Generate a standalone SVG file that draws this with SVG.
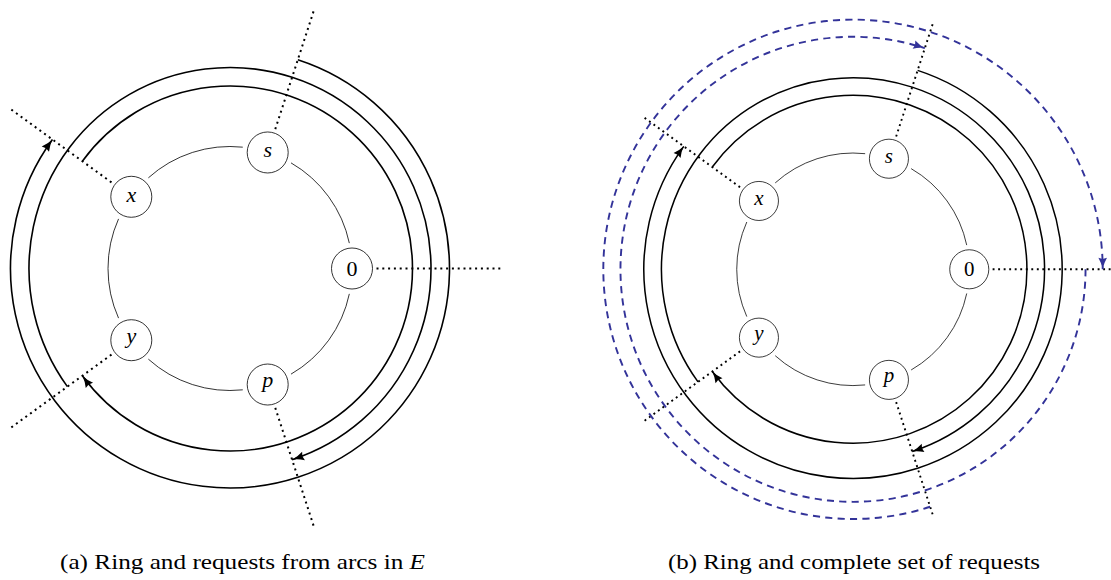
<svg xmlns="http://www.w3.org/2000/svg" width="1111" height="580" viewBox="0 0 1111 580">
<style>
  .ring { fill: none; stroke: #000; stroke-width: 0.8; }
  .req { fill: none; stroke: #000; stroke-width: 1.6; marker-end: url(#ah); }
  .blue { fill: none; stroke: #333399; stroke-width: 2; stroke-dasharray: 7.5 5.5; marker-end: url(#ahb); }
  .dot { fill: none; stroke: #000; stroke-width: 2; stroke-dasharray: 2 3.8; }
  .node circle { fill: #fff; stroke: #000; stroke-width: 0.8; }
  .lbl { font-family: "Liberation Serif", "Times New Roman", serif; font-size: 22px; text-anchor: middle; fill: #000; }
  .it { font-style: italic; }
  .cap { font-family: "Liberation Serif", "Times New Roman", serif; font-size: 22px; fill: #000; }
</style>
<defs>
  <marker id="ah" markerUnits="userSpaceOnUse" markerWidth="16" markerHeight="12" refX="12" refY="4.5" orient="auto" overflow="visible">
    <path d="M12,4.5 Q6,5.6 0,9 L1.2,4.5 L0,0 Q6,3.4 12,4.5 Z" fill="#000"/>
  </marker>
  <marker id="ahb" markerUnits="userSpaceOnUse" markerWidth="16" markerHeight="12" refX="12" refY="4.5" orient="auto" overflow="visible">
    <path d="M12,4.5 Q6,5.6 0,9 L1.2,4.5 L0,0 Q6,3.4 12,4.5 Z" fill="#333399"/>
  </marker>
</defs>
<rect width="1111" height="580" fill="#fff"/>

<!-- (a) -->
<g id="diagram-a" transform="translate(230,268.5)">
  <g id="a-connectors">
    <path class="ring" d="M119.33,-25.37 A122,122 0 0 0 61,-105.65"/>
    <path class="ring" d="M12.75,-121.33 A122,122 0 0 0 -81.63,-90.66"/>
    <path class="ring" d="M-111.45,-49.62 A122,122 0 0 0 -111.45,49.62"/>
    <path class="ring" d="M-81.63,90.66 A122,122 0 0 0 12.75,121.33"/>
    <path class="ring" d="M61,105.65 A122,122 0 0 0 119.33,25.37"/>
    <path class="dot" d="M146.5,0 L273,0"/>
    <path class="dot" d="M45.27,-139.33 L84.36,-259.65"/>
    <path class="dot" d="M-118.52,-86.11 L-220.86,-160.47"/>
    <path class="dot" d="M-118.52,86.11 L-220.86,160.47"/>
    <path class="dot" d="M45.27,139.33 L84.36,259.65"/>
    <path class="req" d="M67.83,-208.76 A219.5,219.5 0 1 1 -177.58,-129.02"/>
    <path class="req" d="M-162.61,118.14 A201,201 0 1 1 62.11,191.16"/>
    <path class="req" d="M-147.65,-107.27 A182.5,182.5 0 1 1 -147.65,107.27"/>
  </g>
  <g id="a-node-0" class="node"><circle cx="122" cy="0" r="20.5"/><text class="lbl" x="122" y="7.3">0</text></g>
  <g id="a-node-s" class="node"><circle cx="37.7" cy="-116.03" r="20.5"/><text class="lbl it" x="37.7" y="-111.3">s</text></g>
  <g id="a-node-x" class="node"><circle cx="-98.7" cy="-71.71" r="20.5"/><text class="lbl it" x="-98.7" y="-67">x</text></g>
  <g id="a-node-y" class="node"><circle cx="-98.7" cy="71.71" r="20.5"/><text class="lbl it" x="-98.7" y="74.3">y</text></g>
  <g id="a-node-p" class="node"><circle cx="37.7" cy="116.03" r="20.5"/><text class="lbl it" x="37.7" y="118.6">p</text></g>
</g>

<!-- (b) -->
<g id="diagram-b" transform="translate(853,269.3) scale(0.953)">
  <g id="b-connectors">
    <path class="ring" d="M119.33,-25.37 A122,122 0 0 0 61,-105.65"/>
    <path class="ring" d="M12.75,-121.33 A122,122 0 0 0 -81.63,-90.66"/>
    <path class="ring" d="M-111.45,-49.62 A122,122 0 0 0 -111.45,49.62"/>
    <path class="ring" d="M-81.63,90.66 A122,122 0 0 0 12.75,121.33"/>
    <path class="ring" d="M61,105.65 A122,122 0 0 0 119.33,25.37"/>
    <path class="dot" d="M146.5,0 L273,0"/>
    <path class="dot" d="M45.27,-139.33 L84.36,-259.65"/>
    <path class="dot" d="M-118.52,-86.11 L-220.86,-160.47"/>
    <path class="dot" d="M-118.52,86.11 L-220.86,160.47"/>
    <path class="dot" d="M45.27,139.33 L84.36,259.65"/>
    <path class="req" d="M67.83,-208.76 A219.5,219.5 0 1 1 -177.58,-129.02"/>
    <path class="req" d="M-162.61,118.14 A201,201 0 1 1 62.11,191.16"/>
    <path class="req" d="M-147.65,-107.27 A182.5,182.5 0 1 1 -147.65,107.27"/>
    <path class="blue" d="M80.96,249.18 A262,262 0 1 1 262,0"/>
    <path class="blue" d="M244,0 A244,244 0 1 1 75.40,-232.06"/>
  </g>
  <g id="b-node-0" class="node"><circle cx="122" cy="0" r="20.5"/><text class="lbl" x="122" y="7.3">0</text></g>
  <g id="b-node-s" class="node"><circle cx="37.7" cy="-116.03" r="20.5"/><text class="lbl it" x="37.7" y="-111.3">s</text></g>
  <g id="b-node-x" class="node"><circle cx="-98.7" cy="-71.71" r="20.5"/><text class="lbl it" x="-98.7" y="-67">x</text></g>
  <g id="b-node-y" class="node"><circle cx="-98.7" cy="71.71" r="20.5"/><text class="lbl it" x="-98.7" y="74.3">y</text></g>
  <g id="b-node-p" class="node"><circle cx="37.7" cy="116.03" r="20.5"/><text class="lbl it" x="37.7" y="118.6">p</text></g>
</g>

<g id="captions">
  <text class="cap" x="60" y="568.5" textLength="365" lengthAdjust="spacingAndGlyphs">(a) Ring and requests from arcs in <tspan class="it">E</tspan></text>
  <text class="cap" x="668" y="568.5" textLength="372" lengthAdjust="spacingAndGlyphs">(b) Ring and complete set of requests</text>
</g>
</svg>
